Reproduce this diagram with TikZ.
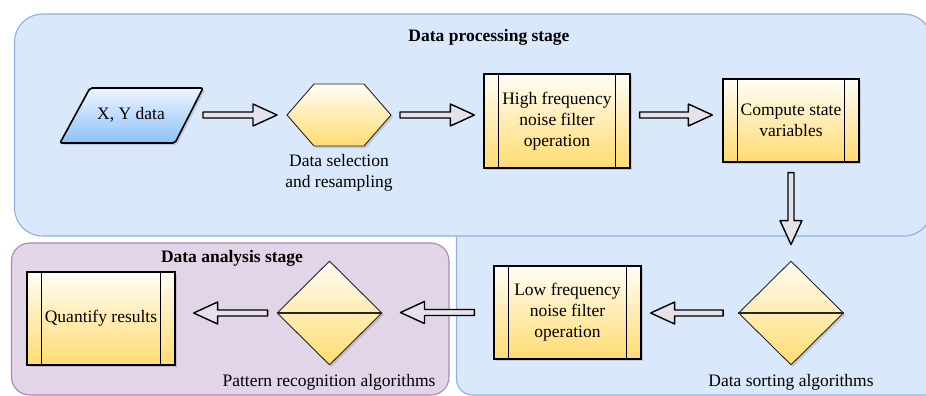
\documentclass[tikz,border=0pt]{standalone}
\usepackage{fontspec}
\setmainfont{Liberation Serif}
\usetikzlibrary{calc,shapes.geometric,shadows}
\definecolor{bluefill}{HTML}{DAE8FC}
\definecolor{blueline}{HTML}{8FB0E0}
\definecolor{purplefill}{HTML}{E1D5E7}
\definecolor{purpleline}{HTML}{A68BB8}
\definecolor{yelbot}{HTML}{FFDB70}
\definecolor{yeltop}{HTML}{FFFDF6}
\definecolor{arrfill}{HTML}{E6E2EC}
\definecolor{pbtop}{HTML}{EEF5FF}
\definecolor{pbbot}{HTML}{8CC2F7}
\newcommand\hblk[2]{\draw[blk] let \p1=(#1), \p2=(#2), \n2={\x2-24*sign(\x2-\x1)} in
  ({\x1},{\y1+3pt}) -- ({\n2*1pt},{\y1+3pt}) -- ({\n2*1pt},{\y1+11pt}) -- ({\x2},{\y1})
  -- ({\n2*1pt},{\y1-11pt}) -- ({\n2*1pt},{\y1-3pt}) -- ({\x1},{\y1-3pt}) -- cycle;}
\newcommand\vblk[2]{\draw[blk] let \p1=(#1), \p2=(#2), \n2={\y2-24*sign(\y2-\y1)} in
  ({\x1-3pt},{\y1}) -- ({\x1-3pt},{\n2*1pt}) -- ({\x1-11pt},{\n2*1pt}) -- ({\x1},{\y2})
  -- ({\x1+11pt},{\n2*1pt}) -- ({\x1+3pt},{\n2*1pt}) -- ({\x1+3pt},{\y1}) -- cycle;}
\tikzset{
  bluebox/.style={draw=blueline, line width=1.1pt, fill=bluefill},
  purplebox/.style={draw=purpleline, line width=1.1pt, fill=purplefill},
  blk/.style={draw=black, line width=1.4pt, fill=arrfill, line join=round},
  yshade/.style={top color=yeltop, bottom color=yelbot},
  shadow/.style={drop shadow={shadow xshift=2pt, shadow yshift=-2pt, opacity=0.3}},
  procbox/.style={rectangle, draw=black, line width=1.3pt, yshade, shadow, align=center, inner sep=0pt},
  dia/.style={diamond, draw=black!85, line width=0.9pt, yshade, shadow, inner sep=0pt, minimum width=105pt, minimum height=104pt},
  lbl/.style={align=center, inner sep=0pt},
  title/.style={font=\fontsize{17.5}{21}\selectfont\bfseries, inner sep=0pt}
}
\begin{document}
\begin{tikzpicture}[x=1pt,y=-1pt, font=\fontsize{17.5}{21}\selectfont]
\useasboundingbox (0,0) rectangle (926,396);
\clip (0,0) rectangle (926,396);
% containers
\draw[bluebox, rounded corners=16pt] (456.5,150) rectangle (960,395);
\draw[bluebox, rounded corners=28pt] (14.5,14) rectangle (932,236);
\draw[purplebox, rounded corners=18pt] (11.5,243) rectangle (449,395);
\node[title] (t1) at (489,37) {Data processing stage};
\node[title] (t2) at (232,258) {Data analysis stage};
% parallelogram
\draw[black, line width=1.6pt, top color=pbtop, bottom color=pbbot, rounded corners=2pt, shadow]
  (90,88) -- (203,88) -- (175,143) -- (60,143) -- cycle;
\node[lbl] (xy) at (131,115) {X, Y data};
\coordinate (xyE) at (189,115);
% hexagon
\coordinate (hexW) at (287,115);
\coordinate (hexE) at (391,115);
\draw[black!85, line width=0.9pt, yshade, shadow]
  (hexW) -- (314,84) -- (364,84) -- (hexE) -- (364,146) -- (314,146) -- cycle;
\node[lbl] (hexl) at (339,173) {Data selection\\and resampling};
% process boxes
\node[procbox, minimum width=146pt, minimum height=94pt] (hf) at (557,121) {High frequency\\noise filter\\operation};
\node[procbox, minimum width=136pt, minimum height=83pt] (cs) at (791,120.5) {Compute state\\variables};
\node[procbox, minimum width=147pt, minimum height=93pt] (lf) at (567.5,312.5) {Low frequency\\noise filter\\operation};
\node[procbox, minimum width=148pt, minimum height=93pt] (qr) at (101,318.5) {Quantify results};
\foreach \n in {hf,cs,lf,qr}{
  \draw[black, line width=1.1pt] ($(\n.north west)+(15,0)$) -- ($(\n.south west)+(15,0)$);
  \draw[black, line width=1.1pt] ($(\n.north east)+(-15,0)$) -- ($(\n.south east)+(-15,0)$);
}
% diamonds
\node[dia] (ds) at (791,313) {};
\draw[black!85, line width=1.1pt] (ds.west) -- (ds.east);
\node[lbl] (dsl) at (791,382) {Data sorting algorithms};
\node[dia] (pr) at (329.5,313) {};
\draw[black!85, line width=1.1pt] (pr.west) -- (pr.east);
\node[lbl] (prl) at (329,382) {Pattern recognition algorithms};
% block arrows
\hblk{$(xyE)+(14,0)$}{$(hexW)+(-10,0)$}
\hblk{$(hexE)+(9,0)$}{$(hf.west)+(-9,-6)$}
\hblk{$(hf.east)+(9,-6)$}{$(cs.west)+(-10,-6)$}
\vblk{$(cs.south)+(0,10)$}{$(ds.north)+(0,-16)$}
\hblk{$(ds.west)+(-15,0)$}{$(lf.east)+(9,0)$}
\hblk{$(lf.west)+(-19,0)$}{$(pr.east)+(18,0)$}
\hblk{$(pr.west)+(-9,0)$}{$(qr.east)+(18,0)$}
\end{tikzpicture}
\end{document}
